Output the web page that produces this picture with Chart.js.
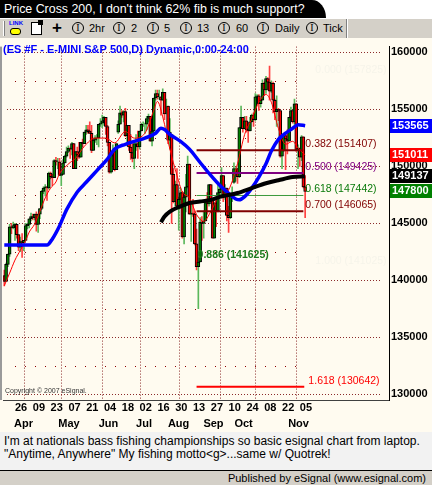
<!DOCTYPE html>
<html>
<head>
<meta charset="utf-8">
<script src="https://cdn.jsdelivr.net/npm/chart.js@4.4.1/dist/chart.umd.min.js"></script>
<style>
body { margin:0; width:432px; height:485px; overflow:hidden; background:#fff; position:relative; font-family:Arial, "Liberation Sans", sans-serif; }
#tab { position:absolute; left:0; top:0; width:326px; height:18px; background:#000; border-top-right-radius:14px 18px; color:#fff; font-size:12.4px; line-height:18px; padding-left:4px; box-sizing:border-box; white-space:nowrap; }
#bar { position:absolute; left:0; top:18px; width:432px; height:20px; background:#d4d0c8; border-top:1px solid #fff; box-sizing:border-box; font-size:11px; }
#bar span { position:absolute; }
.ci { width:10px; height:10px; border:1px solid #000; border-radius:50%; top:3px; font:10px "Liberation Serif", serif; line-height:10px; text-align:center; }
.lb { top:3px; line-height:12px; }
#plot { position:absolute; left:0; top:38px; width:432px; height:394px; background:#fffbf0; }
#note { position:absolute; left:0; top:432px; width:432px; height:38px; background:#f2f2f2; font-size:12px; line-height:13px; padding:3px 4px; box-sizing:border-box; white-space:nowrap; }
#pub { position:absolute; left:0; top:470px; width:432px; height:15px; background:#d4d0c8; border-top:1px solid #000; font-size:11px; text-align:right; padding-right:6px; box-sizing:border-box; line-height:14px; }
</style>
</head>
<body>
<div id="tab">Price Cross 200, I don't think 62% fib is much support?</div>
<div id="bar">
  <span style="left:3px;top:2px;width:1px;height:15px;background:#fff;border-right:1px solid #808080"></span>
  <span style="left:9px;top:1px;font:bold 6px Arial;color:#00f">LINK</span>
  <span style="left:10px;top:9px;width:9px;height:5px;border:1px solid #000;border-radius:3px;background:#ff0"></span>
  <span style="left:31px;top:3px;width:9px;height:11px;border:1px solid #000;background:#fff"></span>
  <span style="left:38px;top:1px;width:5px;height:5px;background:#000"></span>
  <span style="left:52px;top:-1px;font:bold 17px Arial">+</span>
  <span class="ci" style="left:72px">I</span><span class="lb" style="left:89px">2hr</span>
  <span class="ci" style="left:113px">I</span><span class="lb" style="left:131px">2</span>
  <span class="ci" style="left:147px">I</span><span class="lb" style="left:164px">5</span>
  <span class="ci" style="left:180px">I</span><span class="lb" style="left:197px">13</span>
  <span class="ci" style="left:218px">I</span><span class="lb" style="left:236px">60</span>
  <span class="ci" style="left:257px">I</span><span class="lb" style="left:275px">Daily</span>
  <span class="ci" style="left:306px">I</span><span class="lb" style="left:323px">Tick</span>
  <span style="left:346px;top:0;width:1px;height:19px;background:#808080;border-right:1px solid #fff"></span>
</div>
<div id="plot"><canvas id="chart" width="432" height="394"></canvas></div>
<div id="note">I'm at nationals bass fishing championships so basic esignal chart from laptop.<br>"Anytime, Anywhere" My fishing motto&lt;g&gt;...same w/ Quotrek!</div>
<div id="pub">Published by eSignal (www.esignal.com)</div>
<script>
// daily ES bars, Mar 16 - Nov 8 2007 (one per weekday), values as shown on the axis
const opens = [140400,139900,141400,142300,144700,144600,144800,144900,144000,142900,143400,
  143300,143500,144800,144900,145400,145600,145500,145800,144900,145800,146300,147800,148100,148200,148100,149400,149100,149000,150500,150400,150400,
  149200,149300,150300,150900,151300,151600,151500,152000,149800,151300,151000,150800,152100,152000,153000,153200,153100,152900,151400,152300,152500,152500,153700,
  153800,154000,154300,153500,152100,149500,151200,151300,149700,153000,153700,154700,154500,154800,152700,153600,151700,151200,150700,152000,152000,
  151700,153100,153700,153700,153700,154200,154400,152200,153100,156000,156400,156100,156100,155800,156500,155300,155300,152300,152800,149300,146900,148400,
  146500,147100,147700,143800,147300,148200,150200,145800,145900,145800,143200,141200,141600,145100,145000,145200,146900,146700,148400,147100,143700,146800,146100,
  147700,148000,149200,147500,148100,145700,145500,147400,148600,149800,149800,149100,153400,154300,153300,154000,153200,153100,153900,154500,
  154100,156100,156200,155500,155800,157300,156700,157700,157400,156600,157300,155800,154800,155000,154900,150900,151400,152700,152400,152200,154300,154900,153900,
  155500,151400,151600,150800,152600,148200];
const highs = [140900,141500,142300,144900,145000,145100,145000,144900,144000,143800,144100,
  143500,145000,145000,145400,145900,145800,145800,146000,145800,146300,147900,148200,148400,148200,149500,149500,149300,150600,150800,150700,150700,
  149400,150600,151000,151700,151800,151600,152100,152000,151300,151700,152100,152100,152400,153000,153600,153600,153900,153600,152400,152700,152800,153700,154200,
  154500,154400,154300,153600,152100,151200,151900,151500,152000,154000,155300,154900,154900,155100,153600,153600,152800,152000,152000,152800,153100,
  153100,153800,153900,153800,154400,154600,154400,153100,156000,156700,156700,156700,156100,156800,156500,155900,155300,154200,152800,149800,148700,149800,
  147300,148100,147800,147300,149300,150900,150200,146700,147100,146100,144500,142000,145500,145600,146100,147000,147700,148400,148400,147100,146800,147200,148400,
  148200,149900,149200,148400,148100,146500,147500,148200,150300,149900,149800,153400,155300,154300,154400,154400,153200,154300,154600,154700,
  156400,156300,156300,155900,157600,157400,157900,157800,158800,157500,157400,155900,156200,155100,154900,151600,152800,152800,153200,154300,155200,154900,155900,
  155500,151900,151600,152700,152600,149200];
const lows = [139500,139900,141200,142100,144100,144500,143500,143700,142600,142500,142000,
  142600,143500,144500,144600,145200,145300,145300,144300,144200,145400,146200,147600,147400,147000,148000,148900,148300,149000,150100,149800,149200,
  148300,149300,150300,150800,151200,150700,151000,149800,149800,150500,150700,150800,151700,152000,152800,152900,152900,151200,151400,152100,151900,151700,153500,
  153400,153600,152800,151800,149400,149400,150900,149600,149700,152900,153700,154300,153900,152600,151800,151400,150600,150400,149800,151400,150700,
  151500,153100,153500,152900,153200,153900,152200,151800,153000,155800,155900,155900,154500,155800,154100,154600,152000,151500,145000,146800,146500,146400,
  144400,146500,143700,143200,146000,148100,145800,143400,145600,143100,140900,137500,141600,143500,143700,145200,145800,146500,147000,143700,143700,144700,146000,
  147500,147500,146900,147100,145200,144200,145400,146900,148500,148700,148500,149000,153300,153000,153300,153000,152100,153100,153900,153500,
  154000,155500,154900,155200,155800,156200,156400,156700,155800,156500,154700,154100,153500,154000,150800,149800,151300,149700,151100,152200,154300,153800,153700,
  151300,149800,150000,150500,148100,145500];
const closes = [139900,141400,142300,144700,144600,144800,144900,144000,142900,143400,143300,
  143500,144800,144900,145400,145600,145500,145800,144900,145800,146300,147800,148100,148200,148100,149400,149100,149000,150500,150400,150400,149200,
  149300,150300,150900,151300,151600,151500,152000,149800,151300,151000,150800,152100,152000,153000,153200,153100,152900,151400,152300,152500,152500,153700,153800,
  154000,154300,153500,152100,149500,151200,151300,149700,152000,153700,154700,154500,154800,152700,153600,151700,151200,150700,152000,152000,151700,
  153100,153700,153700,153700,154200,154400,152200,153100,156000,156400,156100,156100,155800,156500,154600,155300,152300,153000,149300,146900,148400,146500,
  147100,147700,143800,147300,148200,150200,145800,145900,145800,143200,141200,141600,145100,145000,145200,146900,146700,148400,147100,143700,146800,146100,147700,
  148000,149200,147500,148100,145700,145500,147400,147500,149800,149800,149100,153400,154300,153300,154000,153200,153100,153900,154500,154100,
  156100,156200,155500,155800,157300,156700,157700,157400,156600,157300,155800,154800,155000,154900,150900,151400,152700,152400,152200,154300,154900,153900,155500,
  151400,151600,150800,152600,148200,147800];

// axis text
const dayTicks = [6,16,26,36,46,56,66,76,86,96,106,116,126,136,146,156,166];
const dayLabels = ['26','09','23','07','21','04','18','02','16','30','13','27','10','24','08','22','05'];
const monthPos = [10.8,36.3,58.5,78.5,97.9,117.5,134.4,165.3];
const monthNames = ['Apr','May','Jun','Jul','Aug','Sep','Oct','Nov'];
const monthStarts = [11,32,55,76,98,121,141,164];
const priceTicks = [130000,135000,140000,145000,150000,155000,160000];
const minorLevels = [132500,137500,142500,147500,152500,157500];

// studies (bar index, value)
const blueIdx = [0,24,27,31,35,41,46,52,58,62,68,73,79,85,88,90,93,99,104,110,116,121,125,130,132,135,139,143,147,150,154,158,162,165,169];
const blueVal = [143100,143090,143630,144770,146200,147750,148600,149630,150660,151515,151940,152200,152480,152910,153340,153230,152800,152200,151515,150340,149200,148340,147770,147140,147060,147340,148090,149060,150230,151340,152370,152910,153340,153660,153565];
const blackIdx = [88,90,93,99,104,110,116,121,131,139,147,154,162,169];
const blackVal = [145090,145600,146030,146490,146780,146910,147060,147320,147660,148090,148520,148780,149060,149137];
const redIdx = [0,3,6,9,12,14,17,20,23,26,29,31,34,37,40,45,51,57,62,68,73,79,84,86,89,93,97,100,104,108,112,116,120,123,126,131,135,139,143,147,150,154,158,162,165,169];
const redVal = [139520,140630,141770,142630,143490,144230,144920,146060,147230,148090,148630,149370,149910,150340,150700,151770,152480,152480,152060,153060,152480,152910,154940,155700,154340,151520,149200,147750,147230,145770,145170,146030,147230,147490,147920,150230,152800,154170,155630,156310,155630,153320,151940,152200,151600,151011];

// fib retracement
const fibNames = ['0.382','0.500','0.618','0.700','1.618'];
const fibValues = [151407,149425,147442,146065,130642];
const fibColors = ['#800000','#800080','#3c9a3c','#800000','#ff0000'];
const fibTextColors = ['#800000','#800080','#0a7a0a','#800000','#ff0000'];
const fibFrom = 108, fibTo = 168;
const faintNames = ['0.000','1.000'];
const faintValues = [157825,141025];

// last-value boxes on the price axis
const boxValues = [153565,151011,149137,147800];
const boxColors = ['#0000ff','#ff0000','#000000','#008000'];

const up = closes.map((c, i) => c >= opens[i]);
const bodies = closes.map((c, i) => ({ x: i, y: [opens[i], c] }));
const wicks = closes.map((c, i) => ({ x: i, y: [lows[i], highs[i]] }));
const pts = (xs, ys) => xs.map((x, i) => ({ x: x, y: ys[i] }));

const fibSets = fibValues.map((v, i) => ({
    type: 'line',
    data: [{ x: fibFrom, y: v }, { x: i == 4 ? fibTo + 0.5 : fibTo, y: v }],
    borderColor: fibColors[i],
    borderWidth: i == 2 ? 1 : 2,
    pointRadius: 0,
    order: 7
}));

const fmt = v => String(Math.round(v));

const esignal = {
    id: 'esignal',
    beforeDatasetsDraw(chart) {
        const { ctx, chartArea: a, scales: { x, y } } = chart;
        ctx.save();
        ctx.lineWidth = 1;
        ctx.strokeStyle = '#8b2a2a';
        ctx.setLineDash([1, 2]);
        ctx.beginPath();
        priceTicks.forEach(v => {
            const py = Math.round(y.getPixelForValue(v)) + 0.5;
            ctx.moveTo(a.left + 4, py); ctx.lineTo(381, py);
        });
        monthStarts.forEach(m => {
            const px = Math.round(x.getPixelForValue(m)) + 0.5;
            ctx.moveTo(px, a.top); ctx.lineTo(px, a.bottom);
        });
        ctx.stroke();
        ctx.strokeStyle = '#8b0000';
        ctx.setLineDash([1, 9]);
        ctx.beginPath();
        minorLevels.forEach(v => {
            const py = Math.round(y.getPixelForValue(v)) + 0.5;
            ctx.moveTo(a.left + 12, py); ctx.lineTo(297, py);
        });
        ctx.stroke();
        // left frame
        ctx.fillStyle = '#9a9a9a';
        ctx.fillRect(0, a.top, 2, a.bottom - a.top);
        ctx.restore();
    },
    afterDatasetsDraw(chart) {
        const { ctx, chartArea: a, scales: { x, y } } = chart;
        ctx.save();
        ctx.textBaseline = 'middle';
        ctx.font = '10.5px Arial';
        const lx = x.getPixelForValue(fibTo) + 2;
        fibValues.forEach((v, i) => {
            ctx.fillStyle = fibTextColors[i];
            ctx.fillText(fibNames[i] + ' (' + fmt(v) + ')', i == 4 ? lx + 3 : lx, y.getPixelForValue(v) - 6);
        });
        // nearly invisible end labels of the fib tool
        ctx.fillStyle = '#f6f4ea';
        faintValues.forEach((v, i) => {
            ctx.fillText(faintNames[i] + ' (' + fmt(v) + ')', lx + 10, y.getPixelForValue(v) - 7);
        });
        ctx.fillStyle = '#1e7a1e';
        ctx.font = 'bold 10.5px Arial';
        ctx.fillText('0.886 (141625)', x.getPixelForValue(fibFrom) + 1, y.getPixelForValue(141625) - 7);

        ctx.font = 'bold 11px Arial';
        ctx.fillStyle = '#0000ff';
        ctx.fillText('(ES #F - E-MINI S&P 500,D) Dynamic,0:00-24:00', a.left, 12);
        ctx.font = '7px Arial';
        ctx.fillStyle = '#333';
        ctx.fillText('Copyright \u00a9 2007 eSignal.', a.left + 2, a.bottom - 9);
        ctx.restore();
    },
    afterDraw(chart) {
        const { ctx, chartArea: a, scales: { y } } = chart;
        ctx.save();
        ctx.font = 'bold 11px Arial';
        ctx.textBaseline = 'middle';
        boxValues.forEach((v, i) => {
            const py = Math.round(y.getPixelForValue(v));
            ctx.fillStyle = boxColors[i];
            ctx.fillRect(a.right + 1, py - 7, 42, 14);
            ctx.fillStyle = '#fff';
            ctx.fillText(fmt(v), a.right + 3, py);
        });
        ctx.restore();
    }
};

const xBase = {
    type: 'linear',
    min: -0.73,
    max: 216.1,
    offset: false,
    grid: { display: false, drawTicks: false },
};

new Chart(document.getElementById('chart'), {
    type: 'bar',
    data: {
        datasets: [
            { type: 'bar', data: wicks, backgroundColor: up.map(u => u ? '#5cb85c' : '#ff4040'), barThickness: 1, grouped: false, order: 10 },
            { type: 'bar', data: bodies, backgroundColor: up.map(u => u ? '#008000' : '#ff0000'), borderColor: '#000', borderWidth: 1, borderSkipped: false, barThickness: 3, grouped: false, order: 9 },
            { type: 'line', data: pts(redIdx, redVal), borderColor: '#ff0000', borderWidth: 1, pointRadius: 0, cubicInterpolationMode: 'monotone', order: 8 },
            ...fibSets,
            { type: 'line', data: pts(blueIdx, blueVal), borderColor: '#0000ff', borderWidth: 3.5, pointRadius: 0, cubicInterpolationMode: 'monotone', order: 6 },
            { type: 'line', data: pts(blackIdx, blackVal), borderColor: '#000', borderWidth: 4, pointRadius: 0, cubicInterpolationMode: 'monotone', order: 5 }
        ]
    },
    options: {
        responsive: false,
        devicePixelRatio: 1,
        animation: false,
        events: [],
        layout: { padding: { left: 3, top: 0, right: 0, bottom: 0 } },
        plugins: { legend: { display: false }, tooltip: { enabled: false } },
        scales: {
            x: {
                ...xBase,
                weight: 0,
                border: { display: true, color: '#404040' },
                afterBuildTicks: s => { s.ticks = dayTicks.map(v => ({ value: v })); },
                afterFit: s => { s.height = 17; },
                ticks: {
                    autoSkip: false, maxRotation: 0, padding: 1, align: 'start',
                    color: '#000', font: { family: 'Arial', size: 11, weight: 'bold' },
                    callback: v => dayLabels[dayTicks.indexOf(v)]
                }
            },
            xm: {
                ...xBase,
                position: 'bottom',
                weight: 1,
                border: { display: false },
                afterBuildTicks: s => { s.ticks = monthPos.map(v => ({ value: v })); },
                afterFit: s => { s.height = 15; },
                ticks: {
                    autoSkip: false, maxRotation: 0, padding: 0,
                    color: '#000', font: { family: 'Arial', size: 11, weight: 'bold' },
                    callback: v => monthNames[monthPos.indexOf(v)]
                }
            },
            y: {
                type: 'linear',
                position: 'right',
                min: 129486,
                max: 160514,
                grid: { display: false, drawTicks: false },
                border: { display: true, color: '#000' },
                afterBuildTicks: s => { s.ticks = priceTicks.map(v => ({ value: v })); },
                afterFit: s => { s.width = 43; },
                ticks: {
                    padding: 2, color: '#000',
                    font: { family: 'Arial', size: 11, weight: 'bold' },
                    callback: v => String(v)
                }
            }
        }
    },
    plugins: [esignal]
});
</script>
</body>
</html>
